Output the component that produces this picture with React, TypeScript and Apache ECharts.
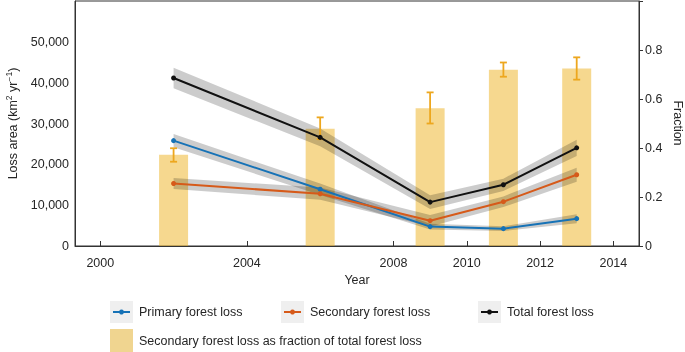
import React, { useEffect, useRef } from 'react';
import * as echarts from 'echarts';

const years = [2002, 2006, 2009, 2011, 2013];
const primaryLoss = [25800, 13900, 4750, 4250, 6700];
const primaryBand = [1600, 1400, 700, 600, 1100];
const secondaryLoss = [15300, 12800, 6200, 10850, 17450];
const secondaryBand = [1350, 1500, 1400, 1300, 1700];
const totalLoss = [41150, 26600, 10750, 15000, 24050];
const totalBand = [2500, 2200, 1700, 1500, 2000];
const fraction = [0.372, 0.479, 0.562, 0.719, 0.724];
const fractionLow = [0.344, 0.436, 0.5, 0.691, 0.679];
const fractionHigh = [0.399, 0.525, 0.627, 0.749, 0.77];
const xTickYears = [2000, 2004, 2008, 2010, 2012, 2014];

const FONT = '"Liberation Sans", Arial, Helvetica, sans-serif';
const AXIS = '#333333';
const TEXT = '#262626';
const BLUE = '#1672B6';
const ORANGE = '#D65A1A';
const BLACK = '#111111';
const BAR = 'rgba(237,177,32,0.5)';
const ERR = '#EDA71E';

function bandSeries(vals: number[], half: number[]) {
  return {
    type: 'custom',
    xAxisIndex: 0,
    yAxisIndex: 0,
    z: 2,
    silent: true,
    data: years.map((y, i) => [y, vals[i] - half[i], vals[i] + half[i]]),
    encode: { x: 0, y: [1, 2] },
    renderItem: (params: any, api: any) => {
      if (params.dataIndex !== 0) return null;
      const upper = years.map((y, i) => api.coord([y, vals[i] + half[i]]));
      const lower = years.map((y, i) => api.coord([y, vals[i] - half[i]])).reverse();
      return {
        type: 'polygon',
        shape: { points: upper.concat(lower) },
        style: { fill: 'rgba(0,0,0,0.2)' },
      };
    },
  };
}

function lineSeries(name: string, vals: number[], color: string) {
  return {
    name,
    type: 'line',
    xAxisIndex: 0,
    yAxisIndex: 0,
    z: 5,
    data: years.map((y, i) => [y, vals[i]]),
    symbol: 'circle',
    symbolSize: 5,
    itemStyle: { color },
    lineStyle: { color, width: 2 },
  };
}

function legendItem(x: number, y: number, color: string, label: string) {
  return [
    { type: 'rect', shape: { x, y, width: 23, height: 22 }, style: { fill: '#efefef' } },
    { type: 'line', shape: { x1: x + 3, y1: y + 11, x2: x + 20, y2: y + 11 }, style: { stroke: color, lineWidth: 2 } },
    { type: 'circle', shape: { cx: x + 11.5, cy: y + 11, r: 2.5 }, style: { fill: color } },
    { type: 'text', x: x + 29, y: y + 11, style: { text: label, fill: TEXT, font: `12.5px ${FONT}`, verticalAlign: 'middle' } },
  ];
}

export default function App() {
  const ref = useRef<HTMLDivElement>(null);
  useEffect(() => {
    const chart = echarts.init(ref.current!, null, { renderer: 'svg' });
    chart.setOption({
      animation: false,
      textStyle: { fontFamily: FONT },
      grid: {
        left: 75,
        right: 46,
        top: 1,
        bottom: 106,
        show: true,
        borderColor: AXIS,
        borderWidth: 1,
        containLabel: false,
        outerBoundsMode: 'none',
      },
      xAxis: {
        type: 'value',
        min: 1999.31,
        max: 2014.7,
        name: 'Year',
        nameLocation: 'middle',
        nameGap: 25,
        nameTextStyle: { color: TEXT, fontSize: 12.5, fontFamily: FONT },
        axisLine: { show: true, lineStyle: { color: AXIS } },
        axisTick: { show: true, inside: true, length: 5, lineStyle: { color: AXIS }, customValues: xTickYears },
        axisLabel: { color: TEXT, fontSize: 12.5, margin: 10, customValues: xTickYears, formatter: (v: number) => String(v) },
        splitLine: { show: false },
      },
      yAxis: [
        {
          type: 'value',
          min: 0,
          max: 60000,
          interval: 10000,
          name: '{a|Loss area (km}{s|2}{a| yr}{s|−1}{a|)}',
          nameLocation: 'middle',
          nameGap: 52,
          nameTextStyle: {
            color: TEXT,
            rich: {
              a: { fontSize: 12.5, color: TEXT, fontFamily: FONT, verticalAlign: 'bottom' },
              s: { fontSize: 8.5, color: TEXT, fontFamily: FONT, verticalAlign: 'top', padding: [0, 0, 6, 0] },
            },
          },
          axisLine: { show: true, lineStyle: { color: AXIS } },
          axisTick: { show: false },
          axisLabel: {
            color: TEXT,
            fontSize: 12.5,
            margin: 6,
            formatter: (v: number) => (v >= 60000 ? '' : v.toLocaleString('en-US')),
          },
          splitLine: { show: false },
        },
        {
          type: 'value',
          min: 0,
          max: 1,
          interval: 0.2,
          position: 'right',
          axisLine: { show: true, lineStyle: { color: AXIS } },
          axisTick: { show: true, inside: false, length: 4, lineStyle: { color: AXIS } },
          axisLabel: {
            color: TEXT,
            fontSize: 12.5,
            margin: 6,
            formatter: (v: number) => (v >= 0.99 ? '' : v === 0 ? '0' : v.toFixed(1)),
          },
          splitLine: { show: false },
        },
      ],
      series: [
        {
          name: 'Secondary forest loss as fraction of total forest loss',
          type: 'bar',
          xAxisIndex: 0,
          yAxisIndex: 1,
          z: 1,
          barWidth: 29,
          data: years.map((y, i) => [y, fraction[i]]),
          itemStyle: { color: BAR },
        },
        bandSeries(totalLoss, totalBand),
        bandSeries(primaryLoss, primaryBand),
        bandSeries(secondaryLoss, secondaryBand),
        {
          type: 'custom',
          xAxisIndex: 0,
          yAxisIndex: 1,
          z: 3,
          silent: true,
          data: years.map((y, i) => [y, fractionLow[i], fractionHigh[i]]),
          encode: { x: 0, y: [1, 2] },
          renderItem: (params: any, api: any) => {
            const x = api.value(0);
            const lo = api.coord([x, api.value(1)]);
            const hi = api.coord([x, api.value(2)]);
            const w = 3.5;
            const st = { stroke: ERR, lineWidth: 1.8 };
            return {
              type: 'group',
              children: [
                { type: 'line', shape: { x1: lo[0], y1: lo[1], x2: hi[0], y2: hi[1] }, style: st },
                { type: 'line', shape: { x1: lo[0] - w, y1: lo[1], x2: lo[0] + w, y2: lo[1] }, style: st },
                { type: 'line', shape: { x1: hi[0] - w, y1: hi[1], x2: hi[0] + w, y2: hi[1] }, style: st },
              ],
            };
          },
        },
        lineSeries('Primary forest loss', primaryLoss, BLUE),
        lineSeries('Secondary forest loss', secondaryLoss, ORANGE),
        lineSeries('Total forest loss', totalLoss, BLACK),
      ],
      graphic: [
        {
          type: 'text',
          x: 678,
          y: 123,
          rotation: -Math.PI / 2,
          style: { text: 'Fraction', fill: TEXT, font: `12.5px ${FONT}`, align: 'center', verticalAlign: 'middle' },
        },
        ...legendItem(110, 301, BLUE, 'Primary forest loss'),
        ...legendItem(281, 301, ORANGE, 'Secondary forest loss'),
        ...legendItem(478, 301, BLACK, 'Total forest loss'),
        { type: 'rect', shape: { x: 110, y: 329, width: 23, height: 23 }, style: { fill: '#F0D590' } },
        {
          type: 'text',
          x: 139,
          y: 341,
          style: { text: 'Secondary forest loss as fraction of total forest loss', fill: TEXT, font: `12.5px ${FONT}`, verticalAlign: 'middle' },
        },
      ],
    });
    return () => chart.dispose();
  }, []);
  return <div ref={ref} style={{ position: 'fixed', left: 0, top: 0, width: 685, height: 352 }} />;
}
